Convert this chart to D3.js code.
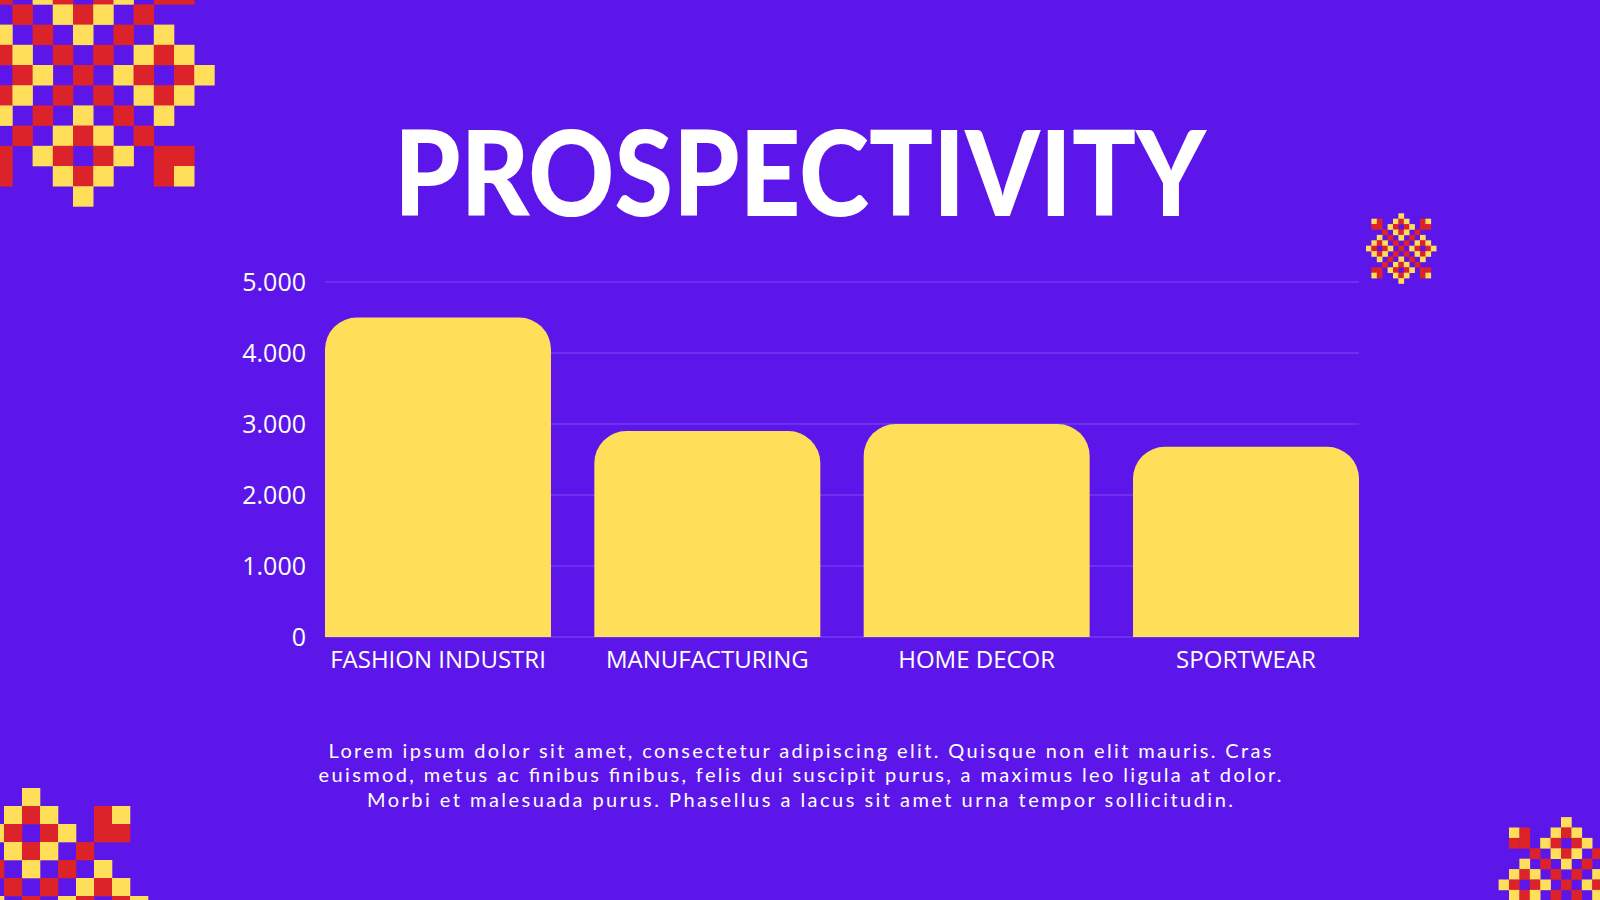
<!DOCTYPE html>
<html>
<head>
<meta charset="utf-8">
<script src="https://cdn.jsdelivr.net/npm/d3@7"></script>
<style>
  html, body { margin: 0; padding: 0; background: #5c16ea; }
  svg { display: block; }
</style>
</head>
<body>
<svg id="chart"></svg>
<script>
const categories = ["FASHION INDUSTRI", "MANUFACTURING", "HOME DECOR", "SPORTWEAR"];
const values = [4500, 2900, 3000, 2680];
const yTicks = [0, 1000, 2000, 3000, 4000, 5000];
const titleText = "PROSPECTIVITY";
const bodyLines = [
    "Lorem ipsum dolor sit amet, consectetur adipiscing elit. Quisque non elit mauris. Cras",
    "euismod, metus ac finibus finibus, felis dui suscipit purus, a maximus leo ligula at dolor.",
    "Morbi et malesuada purus. Phasellus a lacus sit amet urna tempor sollicitudin."
];
const bodyWidths = [943, 963, 866];

// pixel motif used for the corner decorations (Y = yellow, R = red, . = background)
const motif = [
    "......Y......",
    ".YR..YRY..RY.",
    ".RR.YR.RY.RR.",
    "...R.YRY.R...",
    "..Y.R.Y.R.Y..",
    ".YRY.R.R.YRY.",
    "YR.RY.R.YR.RY",
    ".YRY.R.R.YRY.",
    "..Y.R.Y.R.Y..",
    "...R.YRY.R...",
    ".RR.YR.RY.RR.",
    ".YR..YRY..RY.",
    "......Y......"
];

const colors = { bg: "#5c16ea", Y: "#ffde59", R: "#dc2329", grid: "#7d4cf2", text: "#ffffff" };

function drawMotif(g, cx, cy, size) {
    const cells = [];
    motif.forEach((row, i) => {
        row.split("").forEach((ch, j) => {
            if (ch !== ".") cells.push({ dr: i - 6, dc: j - 6, c: ch });
        });
    });
    g.append("g").selectAll("rect")
        .data(cells)
        .enter()
        .append("rect")
        .attr("x", d => cx + d.dc * size)
        .attr("y", d => cy + d.dr * size)
        .attr("width", size + 0.3)
        .attr("height", size + 0.3)
        .attr("fill", d => colors[d.c]);
}

function topRounded(x, y, w, h, r) {
    r = Math.min(r, w / 2, h);
    return `M${x},${y + h}V${y + r}A${r},${r} 0 0 1 ${x + r},${y}H${x + w - r}A${r},${r} 0 0 1 ${x + w},${y + r}V${y + h}Z`;
}

function initChart() {
    const width = 1600, height = 900;
    const svg = d3.select("#chart").attr("width", width).attr("height", height);

    svg.append("rect").attr("width", width).attr("height", height).attr("fill", colors.bg);

    const deco = svg.append("g");
    drawMotif(deco, 73, 65, 20.2);
    drawMotif(deco, 1398.4, 245.7, 5.4);
    drawMotif(deco, 22, 896, 18);
    drawMotif(deco, 1561, 879.5, 10.4);

    // title
    svg.append("text")
        .attr("x", 800)
        .attr("y", 216)
        .attr("text-anchor", "middle")
        .attr("textLength", 812)
        .attr("lengthAdjust", "spacingAndGlyphs")
        .style("font-family", "Lato, sans-serif")
        .style("font-weight", "900")
        .style("font-size", "118px")
        .attr("fill", colors.text)
        .text(titleText);

    const margin = { left: 325, right: 1359, top: 282, bottom: 637 };

    const x = d3.scaleBand()
        .domain(categories)
        .range([margin.left, margin.right])
        .paddingInner(0.161)
        .paddingOuter(0);

    const y = d3.scaleLinear()
        .domain([0, 5000])
        .range([margin.bottom, margin.top]);

    const locale = d3.formatLocale({ decimal: ",", thousands: ".", grouping: [3], currency: ["", ""] });
    const fmt = locale.format(",");

    // gridlines
    svg.append("g")
        .selectAll("line")
        .data(yTicks)
        .enter()
        .append("line")
        .attr("x1", margin.left)
        .attr("x2", margin.right)
        .attr("y1", d => y(d))
        .attr("y2", d => y(d))
        .attr("stroke", colors.grid)
        .attr("stroke-width", 1.2);

    // y axis
    const yAxis = svg.append("g")
        .attr("transform", `translate(${margin.left},0)`)
        .call(d3.axisLeft(y).tickValues(yTicks).tickFormat(fmt).tickSize(0).tickPadding(19));
    yAxis.select(".domain").remove();
    yAxis.selectAll("text")
        .attr("fill", colors.text)
        .style("font-family", "'Open Sans', sans-serif")
        .style("font-size", "25px");

    // bars
    svg.append("g")
        .selectAll("path")
        .data(categories.map((c, i) => ({ cat: c, value: values[i] })))
        .enter()
        .append("path")
        .attr("d", d => topRounded(x(d.cat), y(d.value), x.bandwidth(), y(0) - y(d.value), 32))
        .attr("fill", colors.Y);

    // x axis
    const xAxis = svg.append("g")
        .attr("transform", `translate(0,${margin.bottom})`)
        .call(d3.axisBottom(x).tickSize(0).tickPadding(0));
    xAxis.select(".domain").remove();
    xAxis.selectAll("text")
        .attr("fill", colors.text)
        .attr("dy", null)
        .attr("y", 31)
        .style("font-family", "'Open Sans', sans-serif")
        .style("font-size", "24px");

    // body text
    svg.append("g")
        .selectAll("text")
        .data(bodyLines)
        .enter()
        .append("text")
        .attr("x", 800)
        .attr("y", (d, i) => 758 + i * 24.3)
        .attr("text-anchor", "middle")
        .attr("textLength", (d, i) => bodyWidths[i])
        .attr("lengthAdjust", "spacing")
        .attr("fill", colors.text)
        .style("font-family", "Lato, sans-serif")
        .style("font-size", "20px")
        .text(d => d);
}

document.addEventListener("DOMContentLoaded", initChart);
</script>
</body>
</html>
